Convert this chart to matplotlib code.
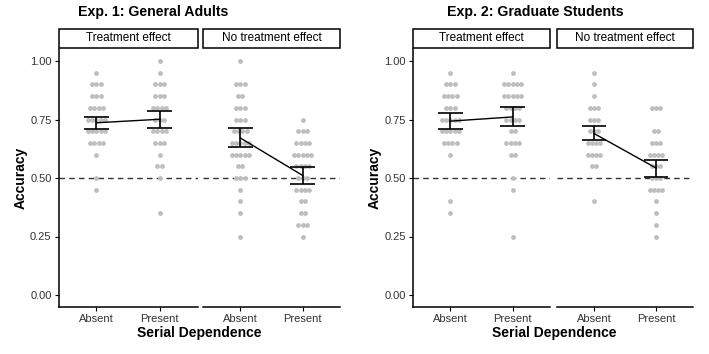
#!/usr/bin/env python3
"""
Accuracy by serial dependence, split by treatment effect, for two experiments.
Grey dots are participants, black bars are mean +/- SE.
"""

import numpy as np
import matplotlib
matplotlib.use("Agg")
import matplotlib.pyplot as plt
from matplotlib.patches import Rectangle

plt.rcParams['font.family'] = ['Liberation Sans', 'DejaVu Sans']

W, H = 709, 354

conditions = ["Absent", "Present"]
facets = ["Treatment effect", "No treatment effect"]
titles = ["Exp. 1: General Adults", "Exp. 2: Graduate Students"]
y_ticks = [0.00, 0.25, 0.50, 0.75, 1.00]
chance = 0.5

# participant accuracies, one list per column
e1_treat_absent = [0.95, 0.90, 0.90, 0.90, 0.85, 0.85, 0.85, 0.80, 0.80, 0.80, 0.80,
                   0.75, 0.75, 0.75, 0.75, 0.75, 0.70, 0.70, 0.70, 0.70, 0.70,
                   0.65, 0.65, 0.65, 0.65, 0.60, 0.50, 0.45]
e1_treat_present = [1.00, 0.95, 0.90, 0.90, 0.90, 0.85, 0.85, 0.85, 0.80, 0.80, 0.80, 0.80,
                    0.75, 0.75, 0.75, 0.70, 0.70, 0.70, 0.70, 0.65, 0.65, 0.65,
                    0.60, 0.55, 0.55, 0.50, 0.35]
e1_none_absent = [1.00, 0.90, 0.90, 0.90, 0.85, 0.85, 0.80, 0.80, 0.80, 0.75, 0.75, 0.75,
                  0.70, 0.70, 0.70, 0.70, 0.65, 0.65, 0.65, 0.65, 0.65,
                  0.60, 0.60, 0.60, 0.60, 0.60, 0.55, 0.55, 0.50, 0.50, 0.50,
                  0.45, 0.40, 0.35, 0.25]
e1_none_present = [0.75, 0.70, 0.70, 0.70, 0.65, 0.65, 0.65, 0.65, 0.60, 0.60, 0.60, 0.60, 0.60,
                   0.55, 0.55, 0.55, 0.55, 0.50, 0.50, 0.50, 0.45, 0.45, 0.45, 0.45,
                   0.40, 0.40, 0.35, 0.35, 0.30, 0.30, 0.30, 0.25]
e2_treat_absent = [0.95, 0.90, 0.90, 0.90, 0.85, 0.85, 0.85, 0.85, 0.80, 0.80, 0.80,
                   0.75, 0.75, 0.75, 0.75, 0.75, 0.70, 0.70, 0.70, 0.70, 0.70,
                   0.65, 0.65, 0.65, 0.65, 0.60, 0.40, 0.35]
e2_treat_present = [0.95, 0.90, 0.90, 0.90, 0.90, 0.90, 0.85, 0.85, 0.85, 0.85, 0.85,
                    0.80, 0.80, 0.80, 0.80, 0.75, 0.75, 0.75, 0.75, 0.70, 0.70,
                    0.65, 0.65, 0.65, 0.65, 0.60, 0.60, 0.50, 0.45, 0.25]
e2_none_absent = [0.95, 0.90, 0.85, 0.80, 0.80, 0.80, 0.75, 0.75, 0.75, 0.70, 0.70, 0.70,
                  0.65, 0.65, 0.65, 0.65, 0.60, 0.60, 0.60, 0.60, 0.55, 0.55, 0.40]
e2_none_present = [0.80, 0.80, 0.80, 0.70, 0.70, 0.65, 0.65, 0.65, 0.60, 0.60, 0.60, 0.60,
                   0.55, 0.55, 0.55, 0.50, 0.50, 0.50, 0.45, 0.45, 0.45, 0.45,
                   0.40, 0.35, 0.30, 0.25]

# means and SE bounds per facet: [absent, present]
e1_treat_mean, e1_treat_lo, e1_treat_hi = [0.736, 0.751], [0.709, 0.714], [0.761, 0.786]
e1_none_mean, e1_none_lo, e1_none_hi = [0.671, 0.511], [0.633, 0.474], [0.714, 0.546]
e2_treat_mean, e2_treat_lo, e2_treat_hi = [0.743, 0.761], [0.709, 0.723], [0.776, 0.804]
e2_none_mean, e2_none_lo, e2_none_hi = [0.690, 0.543], [0.663, 0.503], [0.723, 0.579]

# panel boxes in pixels (x0, x1), shared y range
panel_x = [(58.5, 197.5), (203, 340), (413, 550), (557, 693)]
panel_y = (49.3, 306.7)
strip_y = (28.5, 47.5)
title_x = [153, 535]
xlabel_x = [199, 554]


def px_axes(fig, x0, x1, y0, y1):
    """Add axes from pixel coords (origin at top left)"""
    return fig.add_axes([x0 / W, 1 - y1 / H, (x1 - x0) / W, (y1 - y0) / H])


def spread(values, step=0.068):
    """Spread tied values sideways so they don't sit on top of each other"""
    values = np.asarray(values)
    offsets = np.zeros(len(values))
    for v in np.unique(values):
        idx = np.where(values == v)[0]
        n = len(idx)
        offsets[idx] = (np.arange(n) - (n - 1) / 2) * step
    return offsets


def draw_panel(ax, cols, mean, lo, hi, first):
    for i, vals in enumerate(cols):
        ax.scatter(i + spread(vals), vals, s=12, color='#BEBEBE', lw=0, zorder=2)
    ax.axhline(chance, color='#333333', lw=1, ls=(0, (4, 3)), zorder=1)
    xs = np.arange(len(conditions))
    ax.plot(xs, mean, color='black', lw=1, zorder=3)
    ax.vlines(xs, lo, hi, color='black', lw=1.2, zorder=3)
    for y in (lo, hi):
        ax.hlines(y, xs - 0.2, xs + 0.2, color='black', lw=1.2, zorder=3)

    ax.set_xlim(-0.6, 1.6)
    ax.set_ylim(-0.05, 1.05)
    ax.set_xticks(xs)
    ax.set_xticklabels(conditions)
    for s in ('top', 'right'):
        ax.spines[s].set_visible(False)
    ax.spines['bottom'].set_linewidth(1.1)
    ax.tick_params(axis='x', length=3, width=0.8, labelsize=8, colors='black',
                   labelcolor='#333333', pad=2)
    if first:
        ax.spines['left'].set_linewidth(1.1)
        ax.set_yticks(y_ticks)
        ax.set_yticklabels([f'{t:.2f}' for t in y_ticks])
        ax.tick_params(axis='y', length=3, width=0.8, labelsize=8, colors='black',
                       labelcolor='#333333', pad=2)
    else:
        ax.spines['left'].set_visible(False)
        ax.set_yticks([])


def draw_strip(fig, x0, x1, label):
    ax = px_axes(fig, x0, x1, *strip_y)
    ax.set_axis_off()
    ax.add_patch(Rectangle((0, 0), 1, 1, transform=ax.transAxes, fill=False,
                           ec='black', lw=1.1, clip_on=False))
    ax.text(0.5, 0.5, label, ha='center', va='center', fontsize=8.5)


def main():
    fig = plt.figure(figsize=(W / 100, H / 100), dpi=100)

    data = [
        ([e1_treat_absent, e1_treat_present], e1_treat_mean, e1_treat_lo, e1_treat_hi),
        ([e1_none_absent, e1_none_present], e1_none_mean, e1_none_lo, e1_none_hi),
        ([e2_treat_absent, e2_treat_present], e2_treat_mean, e2_treat_lo, e2_treat_hi),
        ([e2_none_absent, e2_none_present], e2_none_mean, e2_none_lo, e2_none_hi),
    ]

    for k, (cols, mean, lo, hi) in enumerate(data):
        x0, x1 = panel_x[k]
        ax = px_axes(fig, x0, x1, *panel_y)
        draw_panel(ax, cols, mean, lo, hi, first=(k % 2 == 0))
        draw_strip(fig, x0, x1, facets[k % 2])
        if k % 2 == 0:
            ax.set_ylabel('Accuracy', fontsize=10, fontweight='bold', labelpad=2)

    for g in range(2):
        fig.text(title_x[g] / W, 1 - 12 / H, titles[g], ha='center', va='center',
                 fontsize=10.2, fontweight='bold')
        fig.text(xlabel_x[g] / W, 1 - 333 / H, 'Serial Dependence', ha='center',
                 va='center', fontsize=10, fontweight='bold')

    fig.savefig('out.png', dpi=100)


if __name__ == "__main__":
    main()
